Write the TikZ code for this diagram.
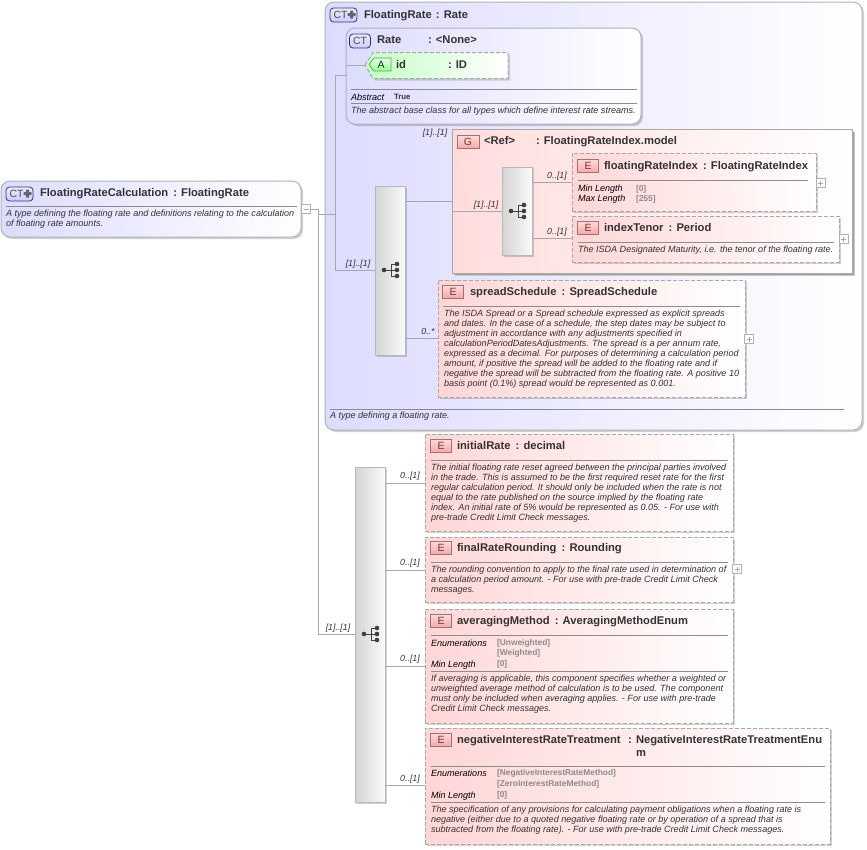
\documentclass[tikz,border=0pt]{standalone}
\usepackage{fontspec}
\setmainfont{Liberation Sans}
\usetikzlibrary{shadows,calc}
\definecolor{lnc}{HTML}{A8A8A8}
\definecolor{txc}{HTML}{333333}
\definecolor{ctb}{HTML}{DCDCFF}
\definecolor{elr}{HTML}{FFD6D6}
\definecolor{grr}{HTML}{FFDCDC}
\definecolor{atg}{HTML}{C4FFC4}
\definecolor{tagb}{HTML}{9C7474}
\definecolor{tagt}{HTML}{FFDADA}
\definecolor{tagm}{HTML}{F8A6A6}
\definecolor{tagx}{HTML}{6E3A3A}
\newcommand{\bx}[6]{\node[#6, minimum width={(#4-#2)*1pt}, minimum height={(#5-#3)*1pt}] (#1) at ({(#2+#4)/2},{(#3+#5)/2}) {};}
\newcommand{\ttl}[3]{\node[ttlt,anchor=base west] at (#1,#2) {#3};}
\newcommand{\txt}[3]{\node[dsc,anchor=north west] at (#1,#2) {#3};}
\newcommand{\hsep}[3]{\draw[sepl] (#1,#3) -- (#2,#3);}
\newcommand{\exx}[3]{\node[expbox] (#1) at (#2,#3) {}; \draw[lnc,line width=.5pt] ($(#1.center)+(-2.5,0)$) -- ($(#1.center)+(2.5,0)$) ($(#1.center)+(0,-2.5)$) -- ($(#1.center)+(0,2.5)$);}
\newcommand{\etag}[3]{\node[etagn] (#1) at (#2,#3) {E};}
\newcommand{\comp}[2]{\begin{scope}[shift={(#1,#2)}]
\fill[black!75] (-6,0) circle (2.3);
\fill[black!75] (7,-6) circle (2.3) (7,0) circle (2.3) (7,6) circle (2.3);
\draw[black!75,line width=.9pt] (-6,0) -- (7,0) (7,-6) -- (1,-6) -- (1,6) -- (7,6);
\end{scope}}
\newcommand{\clab}[3]{\node[clabn] at (#1,#2) {#3};}
\newcommand{\plusg}[2]{\fill[black!60,rounded corners=.5pt] (#1-1.5,#2-4) rectangle (#1+1.5,#2+4) (#1-4,#2-1.5) rectangle (#1+4,#2+1.5);}
\tikzset{x=1pt,y=-1pt,
 every node/.style={inner sep=0pt,outer sep=0pt},
 ttlt/.style={font=\fontsize{11.2}{13}\selectfont\bfseries,text=txc},
 dsc/.style={font=\fontsize{9.05}{10.1}\selectfont\itshape,text=txc,align=left},
 prp/.style={font=\fontsize{9.05}{10.1}\selectfont\itshape,text=black,anchor=base west},
 val/.style={font=\fontsize{8.4}{10}\selectfont\bfseries,text=black!45,anchor=base west},
 clabn/.style={font=\fontsize{8.8}{10}\selectfont\itshape,text=txc},
 sepl/.style={draw=black!45,line width=.7pt},
 conn/.style={draw=lnc,line width=.8pt},
 shd/.style={drop shadow={shadow xshift=2pt,shadow yshift=-2pt,fill=black,opacity=.18}},
 ctbox/.style={draw=black!30,line width=1pt,rounded corners=9pt,left color=ctb,right color=white,shd},
 elbox/.style={draw=lnc,line width=1pt,dash pattern=on 4pt off 2pt,left color=elr,right color=white,shd},
 grbox/.style={draw=lnc,line width=1pt,left color=grr,right color=white,shd},
 cmpbox/.style={draw=black!28,line width=1pt,left color=black!17,right color=black!2,shd},
 expbox/.style={draw=black!30,fill=white,line width=.6pt,minimum size=9pt},
 etagn/.style={draw=tagb,line width=.7pt,minimum width=21pt,minimum height=13pt,top color=tagt,bottom color=tagm,font=\fontsize{10.5}{12}\selectfont,text=tagx},
 cttag/.style={draw=black!60!blue!80,line width=.8pt,rounded corners=3.5pt,top color=blue!8,bottom color=blue!20,font=\fontsize{10.5}{12}\selectfont,text=black!70},
}
\begin{document}
\begin{tikzpicture}
\useasboundingbox (0,0) rectangle (867,849);
% root
\bx{root}{1}{181}{301}{237}{ctbox}
\node[cttag,minimum width=27pt,minimum height=14pt,text width=26pt,align=left] (roottag) at (19.5,194) {\hspace{3pt}CT};
\plusg{27.5}{193.5}
\ttl{40}{196}{FloatingRateCalculation\hspace{2pt} : FloatingRate}
\hsep{6}{297}{206}
\txt{6}{209.5}{A type defining the floating rate and definitions relating to the calculation\\of floating rate amounts.}
\node[expbox] (rootexp) at (306,209) {};
\draw[lnc,line width=.5pt] ($(rootexp.center)+(-2.5,0)$) -- ($(rootexp.center)+(2.5,0)$);
% outer
\bx{frbox}{325}{2}{862}{430}{ctbox}
\node[cttag,minimum width=27pt,minimum height=14pt,text width=26pt,align=left] (frtag) at (343.5,15) {\hspace{3pt}CT};
\plusg{351.5}{14.5}
\ttl{364}{18}{FloatingRate\hspace{1pt} : Rate}
\hsep{330}{844}{409}
\txt{330}{411.5}{A type defining a floating rate.}
% rate
\bx{ratebox}{346}{28}{641}{124}{ctbox}
\node[cttag,minimum width=21pt,minimum height=14pt] (ratetag) at (360,41) {CT};
\ttl{377}{43}{Rate}
\ttl{428}{43}{: <None>}
\hsep{351}{637}{89}
\node[prp] at (351,100) {Abstract};
\node[font=\fontsize{7.8}{10}\selectfont\bfseries,text=black!80,anchor=base west] at (394,99) {True};
\hsep{351}{637}{103}
\txt{351}{106.5}{The abstract base class for all types which define interest rate streams.}
% attribute
\coordinate (idtip) at (365,65);
\fill[black,opacity=.15] (367,67) -- (375,54.5) -- (510,54.5) -- (510,80.5) -- (375,80.5) -- cycle;
\shade[left color=atg,right color=white,draw=none] (365,65) -- (373,52.5) -- (508,52.5) -- (508,78.5) -- (373,78.5) -- cycle;
\draw[lnc,line width=1pt,dash pattern=on 4pt off 2pt] (365,65) -- (373,52.5) -- (508,52.5) -- (508,78.5) -- (373,78.5) -- cycle;
\draw[draw=black!50!green!70,line width=.7pt,top color=green!8,bottom color=green!45!white!90] (374,58) -- (391,58) -- (391,71) -- (374,71) -- (369,64.5) -- cycle;
\node[font=\fontsize{10.5}{12}\selectfont,text=green!25!black] (idtag) at (381,64.5) {A};
\ttl{396}{68}{id}
\ttl{448}{68}{: ID}
% G
\fill[black!22] (455,132) rectangle (855,276);
\bx{gbox}{452}{129}{852}{273}{grbox}
\node[etagn,minimum width=22pt] (gtag) at (468,142) {G};
\ttl{484}{144}{<Ref>}
\ttl{536}{144}{: FloatingRateIndex.model}
% compositors
\bx{compa}{375}{186}{405}{355}{cmpbox}
\comp{390}{270}
\bx{compb}{502}{167}{532}{255}{cmpbox}
\comp{517}{211}
\bx{compc}{355}{467}{385}{802}{cmpbox}
\comp{370}{634}
% floatingRateIndex
\bx{fri}{572}{153}{816}{211}{elbox}
\etag{fritag}{588}{166}
\ttl{604}{169}{floatingRateIndex\hspace{2pt} : FloatingRateIndex}
\hsep{578}{808}{180}
\node[prp] at (578,191) {Min Length};
\node[prp] at (578,201) {Max Length};
\node[val] at (636,191) {[0]};
\node[val] at (636,201) {[255]};
\exx{friexp}{820.5}{183}
% indexTenor
\bx{tenor}{572}{216}{839}{262}{elbox}
\etag{tentag}{588}{228}
\ttl{604}{231}{indexTenor\hspace{2pt} : Period}
\hsep{578}{834}{242}
\txt{578}{245.5}{The ISDA Designated Maturity, i.e. the tenor of the floating rate.}
\exx{tenexp}{843.5}{239}
% spread
\bx{spread}{438}{280}{745}{397}{elbox}
\etag{sprtag}{453}{292}
\ttl{470}{295}{spreadSchedule\hspace{2pt} : SpreadSchedule}
\hsep{443}{740}{306}
\txt{444}{309.5}{The ISDA Spread or a Spread schedule expressed as explicit spreads\\and dates. In the case of a schedule, the step dates may be subject to\\adjustment in accordance with any adjustments specified in\\calculationPeriodDatesAdjustments. The spread is a per annum rate,\\expressed as a decimal. For purposes of determining a calculation period\\amount, if positive the spread will be added to the floating rate and if\\negative the spread will be subtracted from the floating rate. A positive 10\\basis point (0.1\%) spread would be represented as 0.001.}
\exx{sprexp}{749}{339}
% initialRate
\bx{initial}{425}{434}{733}{531}{elbox}
\etag{initag}{441}{446}
\ttl{457}{449}{initialRate\hspace{2pt} : decimal}
\hsep{431}{728}{460}
\txt{431}{463.5}{The initial floating rate reset agreed between the principal parties involved\\in the trade. This is assumed to be the first required reset rate for the first\\regular calculation period. It should only be included when the rate is not\\equal to the rate published on the source implied by the floating rate\\index. An initial rate of 5\% would be represented as 0.05. - For use with\\pre-trade Credit Limit Check messages.}
% finalRateRounding
\bx{final}{425}{537}{733}{602}{elbox}
\etag{fintag}{441}{548}
\ttl{457}{551}{finalRateRounding\hspace{2pt} : Rounding}
\hsep{431}{728}{562}
\txt{431}{565.5}{The rounding convention to apply to the final rate used in determination of\\a calculation period amount. - For use with pre-trade Credit Limit Check\\messages.}
\exx{finexp}{737}{569}
% averaging
\bx{avg}{425}{609}{733}{723}{elbox}
\etag{avgtag}{441}{621}
\ttl{457}{624}{averagingMethod\hspace{2pt} : AveragingMethodEnum}
\hsep{431}{728}{635}
\node[prp] at (431,646) {Enumerations};
\node[val] at (497,645) {[Unweighted]};
\node[val] at (497,655) {[Weighted]};
\node[prp] at (431,667) {Min Length};
\node[val] at (497,666) {[0]};
\hsep{431}{728}{671}
\txt{431}{674.5}{If averaging is applicable, this component specifies whether a weighted or\\unweighted average method of calculation is to be used. The component\\must only be included when averaging applies. - For use with pre-trade\\Credit Limit Check messages.}
% negative
\bx{neg}{425}{728}{830}{844}{elbox}
\etag{negtag}{441}{740}
\ttl{457}{743}{negativeInterestRateTreatment}
\ttl{628}{743}{:}
\ttl{636}{743}{NegativeInterestRateTreatmentEnu}
\ttl{636}{756}{m}
\hsep{431}{825}{766}
\node[prp] at (431,776) {Enumerations};
\node[val] at (497,775) {[NegativeInterestRateMethod]};
\node[val] at (497,786) {[ZeroInterestRateMethod]};
\node[prp] at (431,798) {Min Length};
\node[val] at (497,797) {[0]};
\hsep{431}{825}{802}
\txt{431}{805.5}{The specification of any provisions for calculating payment obligations when a floating rate is\\negative (either due to a quoted negative floating rate or by operation of a spread that is\\subtracted from the floating rate). - For use with pre-trade Credit Limit Check messages.}
% connectors
\coordinate (ja) at (318,209);
\coordinate (jb) at (335.5,214);
\draw[conn] (rootexp.east) -- (ja) -- (ja |- compc.center) -- (compc.west |- compc.center);
\draw[conn] (ja |- jb) -- (jb);
\draw[conn] (jb) -- (jb |- 0,270) -- (compa.west |- 0,270);
\draw[conn] (jb) -- (jb |- 0,75) -- (ratebox.west |- 0,75);
\draw[conn] (ratebox.west |- idtip) -- (idtip);
\draw[conn] (compa.east |- 0,201) -- (gbox.west |- 0,201);
\draw[conn] (compa.east |- 0,338) -- (spread.west |- 0,338);
\draw[conn] (gbox.west |- 0,211) -- (compb.west |- 0,211);
\draw[conn] (compb.east |- 0,182) -- (fri.west |- 0,182);
\draw[conn] (compb.east |- 0,238) -- (tenor.west |- 0,238);
\draw[conn] (compc.east |- 0,483) -- (initial.west |- 0,483);
\draw[conn] (compc.east |- 0,570) -- (final.west |- 0,570);
\draw[conn] (compc.east |- 0,666) -- (avg.west |- 0,666);
\draw[conn] (compc.east |- 0,785) -- (neg.west |- 0,785);
% labels
\clab{435}{133}{[1]..[1]}
\clab{358}{264}{[1]..[1]}
\clab{486}{205}{[1]..[1]}
\clab{557}{176}{0..[1]}
\clab{557}{232}{0..[1]}
\clab{428}{331}{0..*}
\clab{338}{628}{[1]..[1]}
\clab{410}{476}{0..[1]}
\clab{410}{563}{0..[1]}
\clab{410}{659}{0..[1]}
\clab{410}{779}{0..[1]}
\end{tikzpicture}
\end{document}
